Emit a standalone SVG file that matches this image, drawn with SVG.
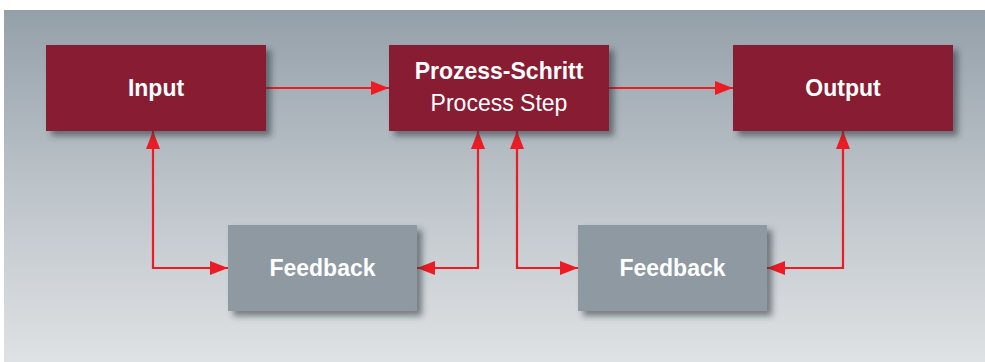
<svg xmlns="http://www.w3.org/2000/svg" width="985" height="362" viewBox="0 0 985 362">
  <defs>
    <linearGradient id="bg" x1="0" y1="0" x2="0" y2="1">
      <stop offset="0" stop-color="#94a0a9"/>
      <stop offset="0.5" stop-color="#bcc3c9"/>
      <stop offset="1" stop-color="#dfe2e4"/>
    </linearGradient>
    <filter id="shadow" x="-10%" y="-10%" width="125%" height="135%">
      <feDropShadow dx="5" dy="5" stdDeviation="3" flood-color="#2a2f35" flood-opacity="0.55"/>
    </filter>
    <marker id="arrow" viewBox="0 0 18 14" refX="18" refY="7" markerWidth="18" markerHeight="14" markerUnits="userSpaceOnUse" orient="auto-start-reverse">
      <path d="M0,0 L18,7 L0,14 Z" fill="#ec1c24"/>
    </marker>
  </defs>
  <style>
    .main { fill: #881c31; filter: url(#shadow); }
    .fb { fill: #8e99a2; filter: url(#shadow); }
    .lbl { font-family: "Liberation Sans", Arial, sans-serif; font-size: 23px; fill: #ffffff; text-anchor: middle; }
    .b { font-weight: bold; }
    .wire { fill: none; stroke: #ec1c24; stroke-width: 2.2; }
  </style>

  <rect x="4" y="10" width="981" height="352" fill="url(#bg)"/>

  <g id="connectors">
    <line class="wire" x1="266" y1="88" x2="389" y2="88" marker-end="url(#arrow)"/>
    <line class="wire" x1="609" y1="88" x2="733" y2="88" marker-end="url(#arrow)"/>
    <polyline class="wire" points="153,131 153,268 228,268" marker-start="url(#arrow)" marker-end="url(#arrow)"/>
    <polyline class="wire" points="417,268 478,268 478,131" marker-start="url(#arrow)" marker-end="url(#arrow)"/>
    <polyline class="wire" points="517,131 517,268 578,268" marker-start="url(#arrow)" marker-end="url(#arrow)"/>
    <polyline class="wire" points="767,268 843,268 843,131" marker-start="url(#arrow)" marker-end="url(#arrow)"/>
  </g>

  <g id="input">
    <rect class="main" x="46" y="45" width="220" height="86"/>
    <text class="lbl b" x="156" y="96">Input</text>
  </g>

  <g id="process-step">
    <rect class="main" x="389" y="45" width="220" height="86"/>
    <text class="lbl b" x="499" y="79">Prozess-Schritt</text>
    <text class="lbl" x="499" y="111">Process Step</text>
  </g>

  <g id="output">
    <rect class="main" x="733" y="45" width="220" height="86"/>
    <text class="lbl b" x="843" y="96">Output</text>
  </g>

  <g id="feedback-1">
    <rect class="fb" x="228" y="225" width="189" height="86"/>
    <text class="lbl b" x="322.5" y="276">Feedback</text>
  </g>

  <g id="feedback-2">
    <rect class="fb" x="578" y="225" width="189" height="86"/>
    <text class="lbl b" x="672.5" y="276">Feedback</text>
  </g>
</svg>
